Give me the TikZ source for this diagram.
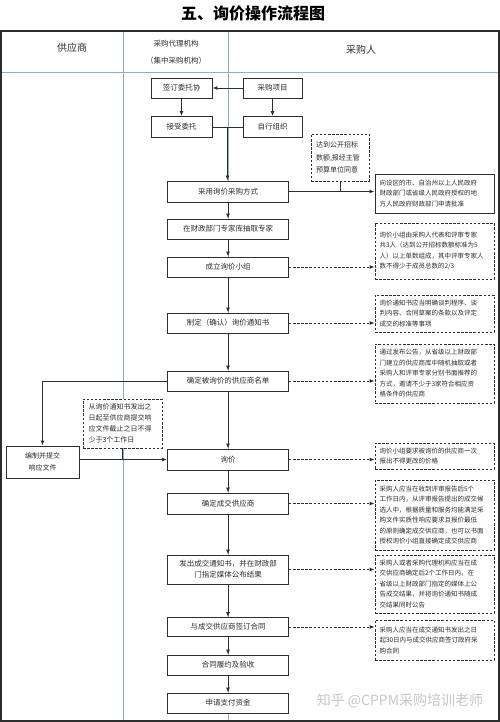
\documentclass[tikz,border=0pt]{standalone}
\usepackage{fontspec}
\setmainfont{Noto Sans CJK SC}
\usetikzlibrary{arrows.meta}

\definecolor{lanecol}{RGB}{150,172,195}
\definecolor{inkcol}{RGB}{45,45,45}

\tikzset{
  stepbox/.style={draw=inkcol, line width=0.9pt, fill=white, minimum width=121pt,
    minimum height=20pt, inner sep=1pt, align=center, text=inkcol,
    font=\fontsize{7.5}{11}\selectfont},
  sidebox/.style={stepbox, minimum width=119pt, text width=110pt, align=left,
    inner xsep=4.5pt, font=\fontsize{6.5}{10.5}\selectfont},
  notebox/.style={sidebox, line width=0.8pt, dash pattern=on 2.5pt off 1.6pt},
  flow/.style={-{Latex[length=5pt,width=4pt]}, line width=0.9pt, draw=inkcol},
  dflow/.style={flow, dash pattern=on 2.5pt off 1.6pt},
  link/.style={line width=0.9pt, draw=inkcol},
  lane/.style={draw=lanecol, line width=0.8pt},
}

\begin{document}
\begin{tikzpicture}[x=1pt, y=-1pt]
        \useasboundingbox (0,0) rectangle (500,722);

        %Title
        \node (title) at (253,13) {\fontsize{16}{16}\selectfont\bfseries 五、询价操作流程图};

        %Lanes
        \draw [lane] (1,72) -- (499,72);
        \draw [lane] (123,31) -- (123,721);
        \draw [lane] (228,31) -- (228,721);
        \draw [line width=1.4pt, draw=inkcol] (1,31) rectangle (499,721);
        \node [text=inkcol, font=\fontsize{10}{10}\selectfont] (hsupplier) at (72,48) {供应商};
        \node [text=inkcol, align=center, font=\fontsize{7.5}{17}\selectfont] (hagent) at (176,52) {采购代理机构\\（集中采购机构）};
        \node [text=inkcol, font=\fontsize{10}{10}\selectfont] (hbuyer) at (361,50) {采购人};

        %Start
        \node [stepbox, minimum width=61pt] (sign) at (181.5,88) {签订委托协};
        \node [stepbox, minimum width=59pt] (project) at (272.5,88) {采购项目};
        \node [stepbox, minimum width=61pt, minimum height=21pt] (accept) at (181.5,127) {接受委托};
        \node [stepbox, minimum width=59pt, minimum height=21pt] (selforg) at (272.5,127) {自行组织};

        %Main flow
        \node [stepbox, minimum height=21pt] (method) at (228,191.5) {采用询价采购方式};
        \node [stepbox] (expert) at (228,229) {在财政部门专家库抽取专家};
        \node [stepbox] (group) at (228,267) {成立询价小组};
        \node [stepbox] (notice) at (228,323) {制定（确认）询价通知书};
        \node [stepbox] (list) at (228,381) {确定被询价的供应商名单};
        \node [stepbox, minimum height=21pt] (inquiry) at (228,459.5) {询价};
        \node [stepbox, minimum height=21pt] (deal) at (228,503.5) {确定成交供应商};
        \node [stepbox, minimum height=29pt] (publish) at (228,569.5) {发出成交通知书，并在财政部\\门指定媒体公布结果};
        \node [stepbox, minimum height=19pt] (contract) at (228,627) {与成交供应商签订合同};
        \node [stepbox] (perform) at (228,665) {合同履约及验收};
        \node [stepbox] (pay) at (228,703) {申请支付资金};

        %Supplier side
        \node [stepbox, minimum width=73pt, minimum height=32pt, font=\fontsize{7}{12}\selectfont] (respond) at (42.5,462) {编制并提交\\响应文件};
        \node [notebox, minimum width=79pt, text width=68pt, minimum height=49pt, font=\fontsize{7}{11}\selectfont] (days) at (122.5,423.5) {从询价通知书发出之\\日起至供应商提交响\\应文件截止之日不得\\少于3个工作日};

        %Notes
        \node [notebox, minimum width=58pt, text width=48pt, minimum height=47pt, font=\fontsize{7}{12.5}\selectfont] (cond) at (340,157.5) {达到公开招标\\数额,报经主管\\预算单位同意};
        \node [sidebox, minimum height=39pt] (approve) at (434.5,193.5) {向设区的市、自治州以上人民政府\\财政部门或省级人民政府授权的地\\方人民政府财政部门申请批准};
        \node [notebox, minimum height=56pt] (groupnote) at (434.5,251) {询价小组由采购人代表和评审专家\\共3人（达到公开招标数额标准为5\\人）以上单数组成，其中评审专家人\\数不得少于成员总数的2/3};
        \node [notebox, minimum height=37pt] (noticenote) at (434.5,313.5) {询价通知书应当明确谈判程序、谈\\判内容、合同草案的条款以及评定\\成交的标准等事项};
        \node [notebox, minimum height=59pt] (listnote) at (434.5,373.5) {通过发布公告，从省级以上财政部\\门建立的供应商库中随机抽取或者\\采购人和评审专家分别书面推荐的\\方式，邀请不少于3家符合相应资\\格条件的供应商};
        \node [notebox, minimum height=26pt] (inquirynote) at (434.5,456) {询价小组要求被询价的供应商一次\\报出不得更改的价格};
        \node [notebox, minimum height=70pt] (dealnote) at (434.5,515) {采购人应当在收到评审报告后5个\\工作日内，从评审报告提出的成交候\\选人中，根据质量和服务均能满足采\\购文件实质性响应要求且报价最低\\的原则确定成交供应商，也可以书面\\授权询价小组直接确定成交供应商};
        \node [notebox, minimum height=58pt] (publishnote) at (434.5,584) {采购人或者采购代理机构应当在成\\交供应商确定后2个工作日内，在\\省级以上财政部门指定的媒体上公\\告成交结果，并将询价通知书随成\\交结果同时公告};
        \node [notebox, minimum height=40pt] (contractnote) at (434.5,640) {采购人应当在成交通知书发出之日\\起30日内与成交供应商签订政府采\\购合同};

        %Watermark
        \node [text=gray!45, font=\fontsize{14}{14}\selectfont] (mark) at (400,701) {知乎 @CPPM采购培训老师};

        %Connectors
        \draw [flow] (project) -- (sign);
        \draw [flow] (sign) -- (accept);
        \draw [flow] (project) -- (selforg);
        \draw [link] (accept) -- coordinate[midway] (join) (selforg);
        \draw [flow] (join) -- (join |- method.north);
        \draw [flow] (method.east) -- (method.east -| approve.west);
        \draw [link] (cond.south) -- (cond.south |- method.east);
        \draw [flow] (method) -- (expert);
        \draw [flow] (expert) -- (group);
        \draw [flow] (group) -- (notice);
        \draw [flow] (notice) -- (list);
        \draw [flow] (list) -- (inquiry);
        \draw [flow] (inquiry) -- (deal);
        \draw [flow] (deal) -- (publish);
        \draw [flow] (publish) -- (contract);
        \draw [flow] (contract) -- (perform);
        \draw [flow] (perform) -- (pay);
        \draw [flow] (list.west) -| (respond.north);
        \draw [flow] (respond.east |- inquiry.west) -- (inquiry.west);
        \draw [link] (days.south) -- (days.south |- inquiry.west);

        %Dashed notes
        \draw [dflow] (group.east) -- (group.east -| groupnote.west);
        \draw [dflow] (notice.east) -- (notice.east -| noticenote.west);
        \draw [dflow] (list.east) -- (list.east -| listnote.west);
        \draw [dflow] (inquiry.east) -- (inquiry.east -| inquirynote.west);
        \draw [dflow] (deal.east) -- (deal.east -| dealnote.west);
        \draw [dflow] (publish.east) -- (publish.east -| publishnote.west);
        \draw [dflow] (contract.east) -- (contract.east -| contractnote.west);

\end{tikzpicture}
\end{document}
